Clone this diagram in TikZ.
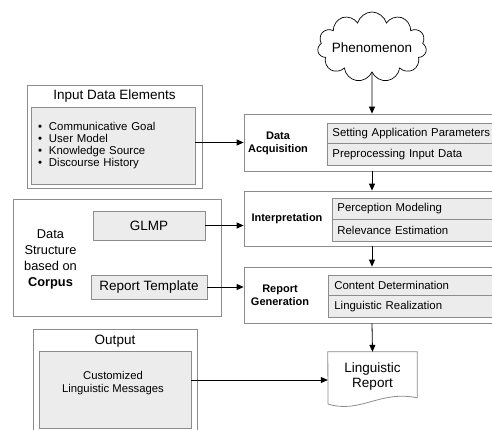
\documentclass[tikz,border=0pt]{standalone}
\usepackage{fontspec}
\setmainfont{Liberation Sans}
\usetikzlibrary{shapes.symbols,arrows.meta}

\definecolor{linegray}{HTML}{8C8C8C}
\definecolor{fillgray}{HTML}{ECECEC}

\tikzset{
	outerbox/.style={draw=linegray, line width=0.8pt, inner sep=0pt},
	innerbox/.style={draw=linegray, fill=fillgray, line width=0.8pt, inner sep=0pt},
	rowbox/.style={innerbox, anchor=north west, inner xsep=5pt, align=left,
		font=\fontsize{11.4}{12}\selectfont},
	title/.style={font=\fontsize{13.5}{15}\selectfont},
	stagelabel/.style={align=center, font=\fontsize{11}{13}\selectfont\bfseries},
	arr/.style={-{Triangle[length=7pt,width=6pt]}, line width=0.8pt}
}

\begin{document}
\begin{tikzpicture}[x=1pt, y=-1pt]
	\useasboundingbox (0,0) rectangle (492,429);
	\clip (0,0) rectangle (492,429);

	% phenomenon
	\node [draw, cloud, cloud puffs=11, cloud ignores aspect, minimum width=109,
		minimum height=70, inner sep=0pt, line width=0.7pt] (phen) at (372,47) {};
	\node [title] (phentext) at (372,48) {Phenomenon};

	% input data elements
	\node [outerbox, minimum width=175, minimum height=103] (inbox) at (114.5,136.5) {};
	\node [title] (intitle) at (114.5,96) {Input Data Elements};
	\node [innerbox, minimum width=164, minimum height=77, inner xsep=7pt, text width=150,
		align=left, font=\fontsize{11.4}{12}\selectfont] (inlist) at (113,145.5)
		{\makebox[11pt][l]{\textbullet}Communicative Goal\\
		 \makebox[11pt][l]{\textbullet}User Model\\
		 \makebox[11pt][l]{\textbullet}Knowledge Source\\
		 \makebox[11pt][l]{\textbullet}Discourse History};

	% data structure
	\node [outerbox, minimum width=208, minimum height=117] (dsbox) at (117,257.5) {};
	\node [align=center, font=\fontsize{12.8}{16}\selectfont] (dslabel) at (50.5,259.5)
		{Data\\Structure\\based on\\\textbf{Corpus}};
	\node [innerbox, minimum width=112, minimum height=29, title] (glmp) at (149,225.5) {GLMP};
	\node [innerbox, minimum width=116, minimum height=24, title] (tmpl) at (149,287) {Report Template};

	% output
	\node [outerbox, minimum width=164, minimum height=111] (outbox) at (115,384.5) {};
	\node [title] (outtitle) at (115,341) {Output};
	\node [innerbox, minimum width=152, minimum height=77] (outinner) at (115,389.5) {};
	\node [align=center, font=\fontsize{11.3}{13}\selectfont] (outtext) at (113,383.5)
		{Customized\\Linguistic Messages};

	% data acquisition
	\node [outerbox, minimum width=256, minimum height=57] (da) at (372,142.5) {};
	\node [stagelabel] (dalabel) at (278,143) {Data\\Acquisition};
	\node [rowbox, text width=158, minimum height=20] (da1) at (327,123) {Setting Application Parameters};
	\node [rowbox, text width=158, minimum height=22] (da2) at (327,143) {Preprocessing Input Data};

	% interpretation
	\node [outerbox, minimum width=256, minimum height=55] (ip) at (372,218.5) {};
	\node [stagelabel] (iplabel) at (287,219) {Interpretation};
	\node [rowbox, text width=153, minimum height=21] (ip1) at (332,198) {Perception Modeling};
	\node [rowbox, text width=153, minimum height=22] (ip2) at (332,219) {Relevance Estimation};

	% report generation
	\node [outerbox, minimum width=256, minimum height=56] (rg) at (372,295) {};
	\node [stagelabel] (rglabel) at (280,295) {Report\\Generation};
	\node [rowbox, inner xsep=6pt, text width=155, minimum height=20] (rg1) at (328,275) {Content Determination};
	\node [rowbox, inner xsep=6pt, text width=155, minimum height=22] (rg2) at (328,295) {Linguistic Realization};

	% linguistic report
	\node [align=center, minimum width=89, minimum height=56, inner sep=0pt,
		font=\fontsize{13.5}{15}\selectfont] (report) at (372.5,380) {Linguistic\\Report\\[-6pt]};
	\draw [linegray, line width=0.8pt] (report.north west) -- (report.north east) -- ++(0,46)
		.. controls (380,390) and (360,414) .. (328,404) -- cycle;

	% arrows
	\draw [arr] (phen.south) -- (da.north);
	\draw [arr] (da.south) -- (ip.north);
	\draw [arr] (ip.south) -- (rg.north);
	\draw [arr] (rg.south) -- (report.north);
	\draw [arr] (inlist.east |- da.west) -- (da.west);
	\draw [arr] (glmp.east) -- (glmp.east -| ip.west);
	\draw [arr] (tmpl.east) -- (tmpl.east -| rg.west);
	\draw [arr] (outinner.east |- report.west) -- (report.west);
\end{tikzpicture}
\end{document}
